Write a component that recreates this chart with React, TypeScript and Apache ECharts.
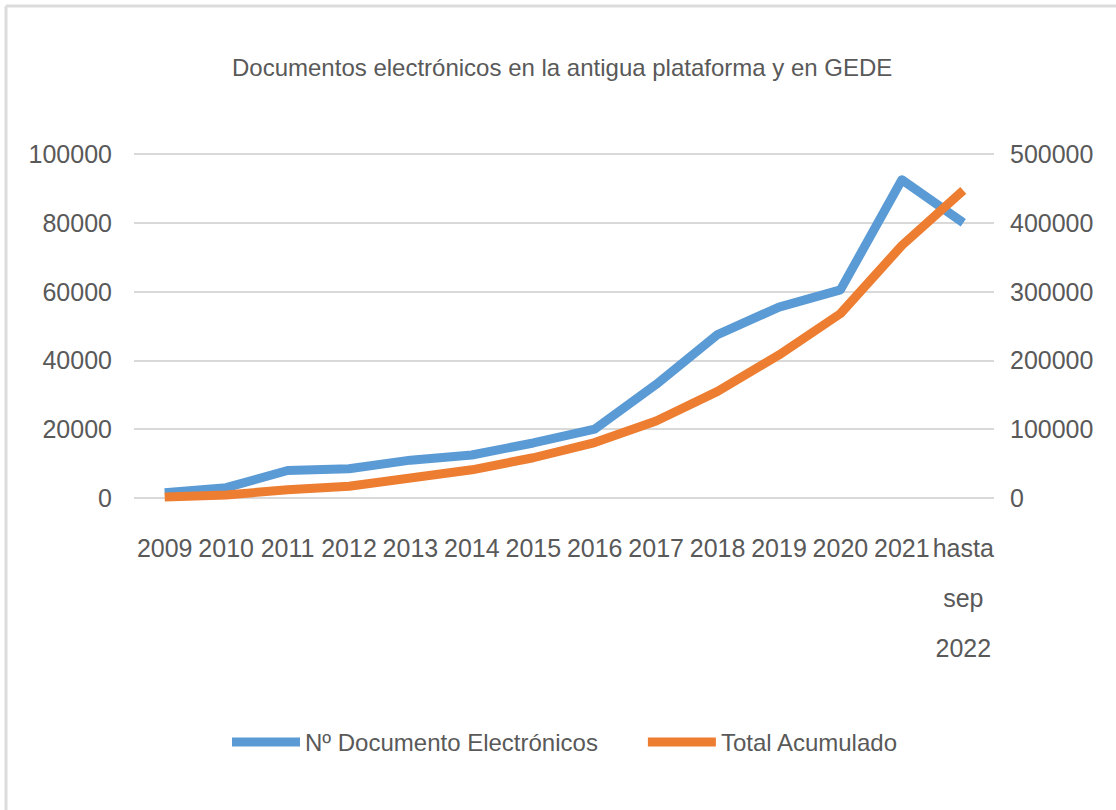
import React, { useEffect, useRef } from "react";
import * as echarts from "echarts";

const categories = ["2009", "2010", "2011", "2012", "2013", "2014", "2015", "2016", "2017", "2018", "2019", "2020", "2021", "hasta\nsep\n2022"];
const documentos = [1500, 3000, 8000, 8500, 11000, 12500, 16000, 20000, 33000, 47500, 55500, 60500, 92500, 80000];
const acumulado = [1500, 4500, 12000, 17000, 29000, 41000, 58500, 80500, 112000, 155000, 208000, 268000, 367000, 447000];
const leftTicks = [0, 20000, 40000, 60000, 80000, 100000];
const rightTicks = [0, 100000, 200000, 300000, 400000, 500000];

const TITLE = "Documentos electrónicos en la antigua plataforma y en GEDE";
const NAME_DOC = "Nº Documento Electrónicos";
const NAME_ACUM = "Total Acumulado";

const FONT = "'Liberation Sans', Arial, sans-serif";
const TEXT = "#595959";
const GRID = "#d9d9d9";

export default function App() {
  const ref = useRef<HTMLDivElement>(null);
  useEffect(() => {
    document.body.style.margin = "0";
    if (!ref.current) return;
    const chart = echarts.init(ref.current, null, { renderer: "svg" });
    const fmt = (v: number) => String(v);
    chart.setOption({
      animation: false,
      backgroundColor: "#ffffff",
      textStyle: { fontFamily: FONT },
      title: {
        text: TITLE,
        left: 232,
        top: 55,
        padding: 0,
        textStyle: { fontFamily: FONT, fontSize: 24, fontWeight: "normal", color: TEXT },
      },
      legend: {
        left: 232,
        top: 730,
        padding: 0,
        icon: "rect",
        itemWidth: 68,
        itemHeight: 9,
        itemGap: 50,
        textStyle: { fontFamily: FONT, fontSize: 24, color: TEXT },
        data: [NAME_DOC, NAME_ACUM],
      },
      graphic: [
        { type: "line", shape: { x1: 6, y1: 6, x2: 6, y2: 810 }, style: { stroke: "#dcdcdc", lineWidth: 3 } },
        { type: "line", shape: { x1: 6, y1: 6, x2: 1116, y2: 6 }, style: { stroke: "#dcdcdc", lineWidth: 3 } },
      ],
      grid: { left: 134, right: 122, top: 154, bottom: 312, containLabel: false },
      xAxis: {
        type: "category",
        data: categories,
        boundaryGap: true,
        axisLine: { show: false },
        axisTick: { show: false },
        axisLabel: {
          interval: 0,
          margin: 25,
          fontFamily: FONT,
          fontSize: 25,
          lineHeight: 50,
          color: TEXT,
        },
      },
      yAxis: [
        {
          type: "value",
          min: leftTicks[0],
          max: leftTicks[leftTicks.length - 1],
          interval: leftTicks[1] - leftTicks[0],
          axisLine: { show: false },
          axisTick: { show: false },
          axisLabel: { margin: 22, fontFamily: FONT, fontSize: 25, color: TEXT, formatter: fmt },
          splitLine: { show: true, lineStyle: { color: GRID, width: 2 } },
        },
        {
          type: "value",
          min: rightTicks[0],
          max: rightTicks[rightTicks.length - 1],
          interval: rightTicks[1] - rightTicks[0],
          position: "right",
          axisLine: { show: false },
          axisTick: { show: false },
          axisLabel: { margin: 16, fontFamily: FONT, fontSize: 25, color: TEXT, formatter: fmt },
          splitLine: { show: false },
        },
      ],
      series: [
        {
          name: NAME_DOC,
          type: "line",
          yAxisIndex: 0,
          data: documentos,
          showSymbol: false,
          symbol: "none",
          itemStyle: { color: "#5B9BD5" },
          lineStyle: { color: "#5B9BD5", width: 9, join: "round" },
        },
        {
          name: NAME_ACUM,
          type: "line",
          yAxisIndex: 1,
          data: acumulado,
          showSymbol: false,
          symbol: "none",
          itemStyle: { color: "#ED7D31" },
          lineStyle: { color: "#ED7D31", width: 9, join: "round" },
        },
      ],
    });
    return () => chart.dispose();
  }, []);
  return <div ref={ref} style={{ width: 1116, height: 810 }} />;
}
